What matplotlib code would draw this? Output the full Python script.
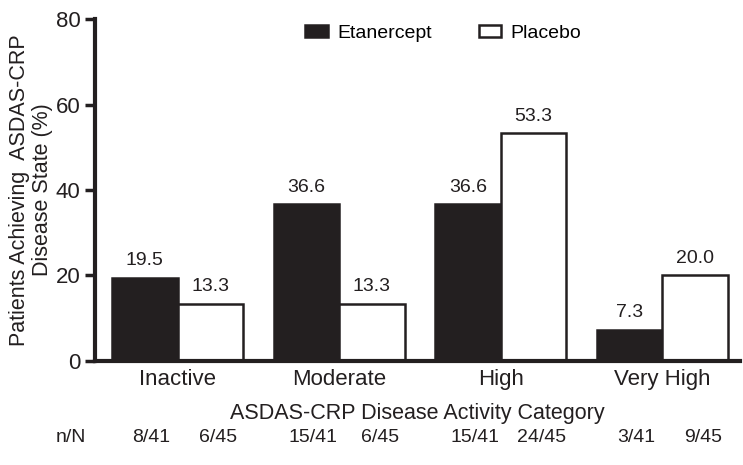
import matplotlib
matplotlib.use("Agg")
import matplotlib.pyplot as plt
import numpy as np

plt.rcParams['font.family'] = ['Liberation Sans', 'DejaVu Sans']

categories = ["Inactive", "Moderate", "High", "Very High"]
etanercept = [19.5, 36.6, 36.6, 7.3]
placebo = [13.3, 13.3, 53.3, 20.0]
eta_nN = ["8/41", "15/41", "15/41", "3/41"]
pla_nN = ["6/45", "6/45", "24/45", "9/45"]
yticks = [0, 20, 40, 60, 80]

dark = "#231f20"
fig = plt.figure(figsize=(7.43, 4.65), dpi=100)
ax = fig.add_axes([0.128, 0.224, 0.868, 0.735])

x = np.arange(len(categories))
w = 0.405
ax.bar(x - w/2, etanercept, w, color=dark, edgecolor=dark, linewidth=1.8, label="Etanercept")
ax.bar(x + w/2, placebo, w, color="white", edgecolor=dark, linewidth=1.8, label="Placebo")

for xi, v in zip(x - w/2, etanercept):
    ax.text(xi, v + 2, f"{v:.1f}", ha="center", va="bottom", fontsize=14, color=dark)
for xi, v in zip(x + w/2, placebo):
    ax.text(xi, v + 2, f"{v:.1f}", ha="center", va="bottom", fontsize=14, color=dark)

ax.set_xlim(-0.51, 3.48)
ax.set_ylim(0, 80)
ax.set_yticks(yticks)
ax.set_xticks(x)
ax.set_xticklabels(categories, fontsize=16)
ax.tick_params(axis='y', labelsize=16, width=2.5, length=7, direction='out', colors=dark)
ax.tick_params(axis='x', length=0, pad=6, colors=dark)
for s in ["top", "right"]:
    ax.spines[s].set_visible(False)
for s in ["left", "bottom"]:
    ax.spines[s].set_linewidth(3)
    ax.spines[s].set_color(dark)

ax.set_ylabel("Patients Achieving  ASDAS-CRP\nDisease State (%)", fontsize=15.5, color=dark, labelpad=2, linespacing=1.15)
ax.set_xlabel("ASDAS-CRP Disease Activity Category", fontsize=15.5, color=dark, labelpad=9)

ax.legend(loc="upper center", bbox_to_anchor=(0.54, 1.035), ncol=2, frameon=False,
          fontsize=14, handlelength=1.15, handleheight=0.6, columnspacing=2.4, handletextpad=0.5)

trans = ax.get_xaxis_transform()
ny = -0.225
ax.text(-0.66, ny, "n/N", transform=trans, ha="center", va="center", fontsize=14, color=dark)
for xi, a, b in zip(x, eta_nN, pla_nN):
    ax.text(xi - w/2 + 0.04, ny, a, transform=trans, ha="center", va="center", fontsize=14, color=dark)
    ax.text(xi + w/2 + 0.05, ny, b, transform=trans, ha="center", va="center", fontsize=14, color=dark)

fig.savefig("out.png", dpi=100)
